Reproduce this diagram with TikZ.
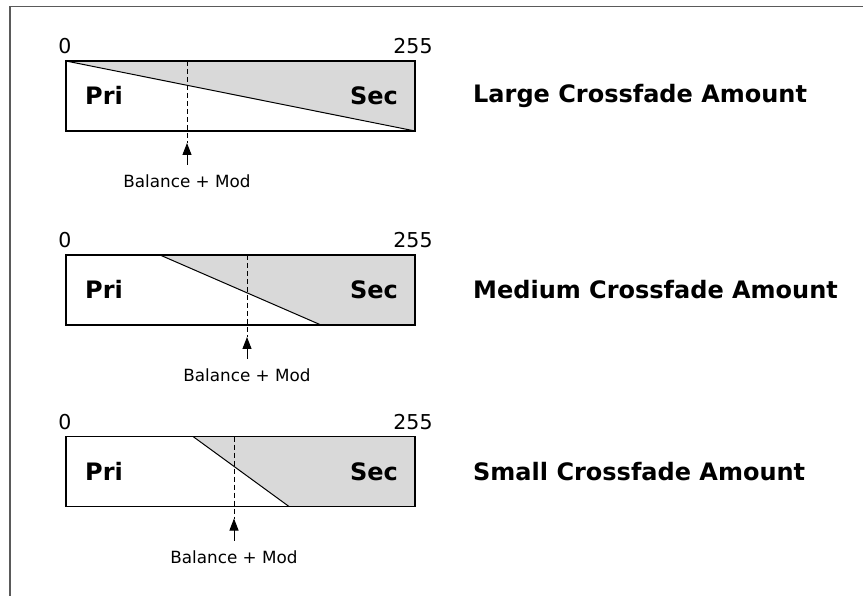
\documentclass[tikz,border=0pt]{standalone}
\usepackage{fontspec}
\setmainfont{DejaVu Sans}
\newfontfamily\heavyfont{DejaVu Sans}[UprightFont=* Bold]
\usepackage{tikz}
\usetikzlibrary{positioning,arrows.meta,calc}
\definecolor{fadegray}{RGB}{217,217,217}
\definecolor{framegray}{RGB}{90,90,90}
\NewDocumentCommand{\drawxfade}{ m m m m m }
{
    \node[xbar] (#1) at (66,#2) {};
    \coordinate (#1-a) at (#3,#2);
    \coordinate (#1-b) at (#4,#2+70);
    \fill[fadegray] (#1-a) -- (#1.north east) -- (#1.south east) -- (#1-b) -- cycle;
    \draw[xline] (#1-a) -- (#1-b);
    \draw[xedge] (#1.north west) rectangle (#1.south east);
    \node[numlabel] (#1-lo) at ([xshift=-1pt,yshift=7pt]#1.north west) {0};
    \node[numlabel] (#1-hi) at ([xshift=-2pt,yshift=7pt]#1.north east) {255};
    \node[barlabel,anchor=base west] (#1-pri) at ([xshift=19pt,yshift=-44pt]#1.north west) {Pri};
    \node[barlabel,anchor=base east] (#1-sec) at ([xshift=-17pt,yshift=-44pt]#1.north east) {Sec};
    \coordinate (#1-t) at (#5,#2);
    \coordinate (#1-p) at (#5,#2+82);
    \draw[baldash] (#1-t) -- (#1-p);
    \node[ballabel] (#1-bal) at (#5,#2+114) {Balance + Mod};
    \draw[balarrow] (#1-bal.north) -- (#1-p);
}
\begin{document}
\begin{tikzpicture}[x=1pt,y=-1pt,
  xbar/.style={shape=rectangle,minimum width=349pt,minimum height=70pt,inner sep=0pt,outer sep=0pt,anchor=north west},
  xedge/.style={line width=1.3pt},
  xline/.style={line width=1pt},
  baldash/.style={line width=1pt,dash pattern=on 5pt off 3pt},
  balarrow/.style={line width=1pt,-{Triangle[length=12pt,width=9pt]},shorten <=10pt},
  numlabel/.style={anchor=base,inner sep=0pt,font=\fontsize{20.5}{22}\selectfont},
  ballabel/.style={anchor=north,inner sep=0pt,font=\fontsize{16.8}{18}\selectfont},
  barlabel/.style={inner sep=0pt,font=\heavyfont\fontsize{24}{26}\selectfont},
  title/.style={anchor=west,inner sep=0pt,font=\heavyfont\fontsize{24}{26}\selectfont}]
  \useasboundingbox (0,0) rectangle (863,596);
  \draw[framegray,line width=1.5pt] (10,596) -- (10,6.5) -- (863,6.5);
  \drawxfade{bar1}{61}{66}{415}{187}
  \drawxfade{bar2}{255}{160}{321}{247}
  \drawxfade{bar3}{436.5}{193}{289}{234}
  \node[title,right=58pt of bar1.east] (large) {Large Crossfade Amount};
  \node[title,right=58pt of bar2.east] (medium) {Medium Crossfade Amount};
  \node[title,right=58pt of bar3.east] (small) {Small Crossfade Amount};
\end{tikzpicture}
\end{document}
